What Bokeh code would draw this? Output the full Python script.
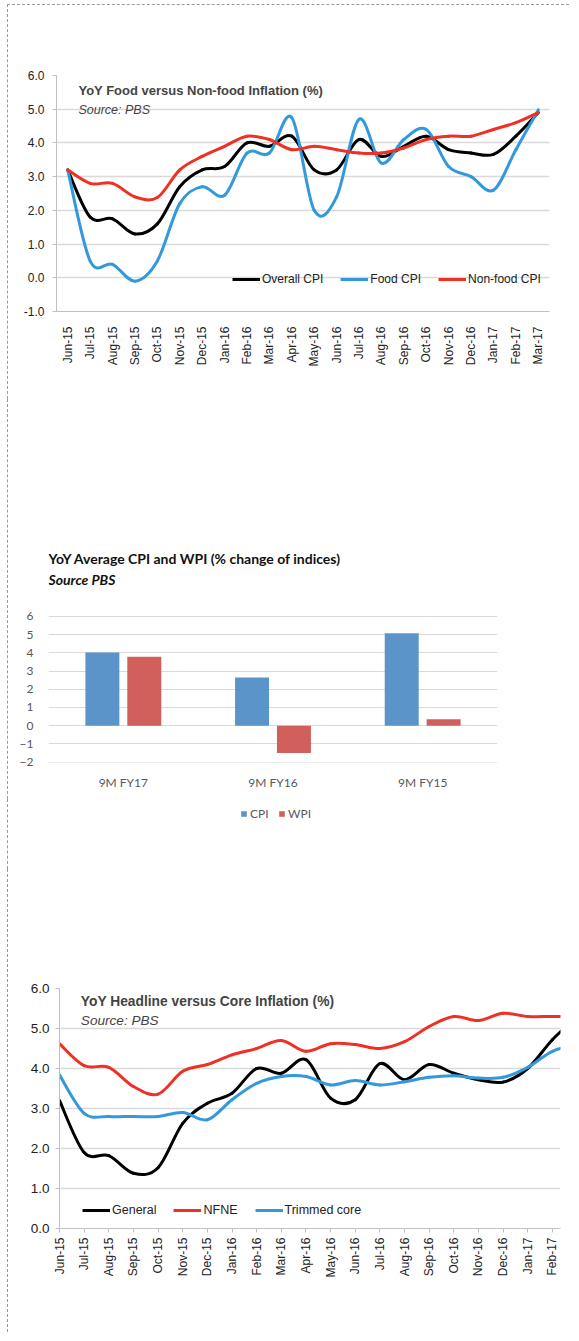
import math
from bokeh.plotting import figure
from bokeh.models import (ColumnDataSource, Label, Legend, LegendItem, FixedTicker,
                          NumeralTickFormatter, FactorRange, Range1d)
from bokeh.transform import dodge
from bokeh.embed import file_html
from bokeh.resources import INLINE

# ---------------- data ----------------
months = ["Jun-15", "Jul-15", "Aug-15", "Sep-15", "Oct-15", "Nov-15", "Dec-15",
          "Jan-16", "Feb-16", "Mar-16", "Apr-16", "May-16", "Jun-16", "Jul-16",
          "Aug-16", "Sep-16", "Oct-16", "Nov-16", "Dec-16", "Jan-17", "Feb-17", "Mar-17"]

overall_cpi = [3.2, 1.8, 1.75, 1.3, 1.6, 2.7, 3.2, 3.3, 4.0, 3.9, 4.2, 3.2, 3.2, 4.1,
               3.6, 3.9, 4.2, 3.8, 3.7, 3.66, 4.2, 4.9]
food_cpi = [3.2, 0.5, 0.4, -0.1, 0.5, 2.2, 2.7, 2.45, 3.7, 3.7, 4.75, 2.0, 2.4, 4.7,
            3.4, 4.1, 4.4, 3.3, 3.0, 2.6, 3.8, 4.98]
nonfood_cpi = [3.2, 2.8, 2.8, 2.4, 2.38, 3.2, 3.6, 3.9, 4.2, 4.1, 3.8, 3.9, 3.8, 3.7,
               3.7, 3.85, 4.1, 4.2, 4.2, 4.4, 4.6, 4.9]

bar_periods = ["9M FY17", "9M FY16", "9M FY15"]
cpi_avg = [4.02, 2.65, 5.08]
wpi_avg = [3.78, -1.5, 0.35]

general = [3.2, 1.9, 1.82, 1.38, 1.52, 2.63, 3.13, 3.38, 4.0, 3.88, 4.22, 3.26, 3.22,
           4.12, 3.72, 4.1, 3.88, 3.72, 3.66, 4.0, 4.72, 5.3]
nfne = [4.62, 4.07, 4.03, 3.55, 3.36, 3.93, 4.1, 4.34, 4.5, 4.7, 4.43, 4.62, 4.6, 4.5,
        4.67, 5.05, 5.3, 5.2, 5.38, 5.3, 5.3, 5.3]
trimmed = [3.84, 2.88, 2.8, 2.8, 2.8, 2.9, 2.72, 3.22, 3.63, 3.8, 3.8, 3.59, 3.7, 3.59,
           3.67, 3.78, 3.82, 3.76, 3.78, 4.03, 4.43, 4.6]

ARIAL = "Liberation Sans"
CAL = "Lato"
GRID = "#d9d9d9"
AXIS = "#bfbfbf"
DASH = "1px dashed #9a9a9a"
CPI_COLOR = "#5b94c9"
WPI_COLOR = "#d1605c"


def smooth_source(ys):
    """Bezier segments through the data points (Excel-like smoothed line)."""
    xs = list(range(len(ys)))
    n = len(xs)
    d = dict(x0=[], y0=[], x1=[], y1=[], cx0=[], cy0=[], cx1=[], cy1=[])
    for i in range(n - 1):
        xp, yp = (xs[i - 1], ys[i - 1]) if i > 0 else (xs[i], ys[i])
        xn, yn = (xs[i + 2], ys[i + 2]) if i + 2 < n else (xs[i + 1], ys[i + 1])
        d["x0"].append(xs[i]); d["y0"].append(ys[i])
        d["x1"].append(xs[i + 1]); d["y1"].append(ys[i + 1])
        d["cx0"].append(xs[i] + (xs[i + 1] - xp) / 6.0)
        d["cy0"].append(ys[i] + (ys[i + 1] - yp) / 6.0)
        d["cx1"].append(xs[i + 1] - (xn - xs[i]) / 6.0)
        d["cy1"].append(ys[i + 1] - (yn - ys[i]) / 6.0)
    return ColumnDataSource(d)


def smooth_line(p, ys, color):
    p.bezier(x0="x0", y0="y0", x1="x1", y1="y1", cx0="cx0", cy0="cy0", cx1="cx1", cy1="cy1",
             source=smooth_source(ys), line_color=color, line_width=3, line_cap="round")
    # legend swatch renderer (draws nothing in the plot)
    return p.line(x=[math.nan], y=[math.nan], line_color=color, line_width=3)


def base_line_fig(height, xr, yr, left, right, top, bottom, styles):
    p = figure(width=562, height=height, x_range=xr, y_range=yr,
               output_backend="svg", toolbar_location=None,
               min_border_left=left, min_border_right=right,
               min_border_top=top, min_border_bottom=bottom, styles=styles)
    p.outline_line_color = None
    p.xgrid.grid_line_color = None
    p.ygrid.grid_line_color = GRID
    p.ygrid.grid_line_width = 1.3
    p.yaxis.formatter = NumeralTickFormatter(format="0.0")
    p.yaxis.axis_line_color = AXIS
    p.yaxis.major_tick_line_color = AXIS
    p.yaxis.major_tick_in = 0
    p.yaxis.major_tick_out = 4
    p.yaxis.minor_tick_line_color = None
    p.xaxis.axis_line_color = AXIS
    p.xaxis.minor_tick_line_color = None
    p.xaxis.major_label_orientation = math.pi / 2
    for ax in (p.xaxis, p.yaxis):
        ax.major_label_text_font = ARIAL
        ax.major_label_text_color = "#222222"
    return p


def line_legend(items, loc, size):
    return Legend(items=items, orientation="horizontal", location=loc,
                  glyph_width=28, glyph_height=14, label_height=14, label_standoff=2,
                  spacing=17, padding=0, margin=0, border_line_color=None,
                  background_fill_alpha=0, label_text_font=ARIAL, label_text_font_size=size,
                  label_text_color="#222222")


SIDE = {"border-left": DASH, "margin-left": "7px"}

# ---------------- chart 1 ----------------
p1 = base_line_fig(395, Range1d(-0.5, 21.5), Range1d(-1, 6), 48, 21, 70, 89,
                   dict(SIDE, **{"border-top": DASH, "margin-top": "4px"}))
p1.yaxis.ticker = FixedTicker(ticks=list(range(-1, 7)))
p1.yaxis.major_label_text_font_size = "12px"
p1.yaxis.major_label_standoff = 8
p1.xaxis.ticker = FixedTicker(ticks=list(range(len(months))))
p1.xaxis.major_label_overrides = {i: m for i, m in enumerate(months)}
p1.xaxis.major_tick_line_color = None
p1.xaxis.major_label_text_font_size = "12px"
p1.xaxis.major_label_standoff = 9

r_over = smooth_line(p1, overall_cpi, "#000000")
r_food = smooth_line(p1, food_cpi, "#3399dd")
r_nonf = smooth_line(p1, nonfood_cpi, "#ee3124")

p1.add_layout(Label(x=0.48, y=5.555, text="YoY Food versus Non-food Inflation (%)",
                    text_font=ARIAL, text_font_style="bold", text_font_size="13px",
                    text_baseline="middle", text_align="left"))
p1.add_layout(Label(x=0.48, y=4.99, text="Source: PBS",
                    text_font=ARIAL, text_font_style="italic", text_font_size="12.5px",
                    text_baseline="middle", text_align="left"))
p1.add_layout(line_legend([LegendItem(label="Overall CPI", renderers=[r_over]),
                           LegendItem(label="Food CPI", renderers=[r_food]),
                           LegendItem(label="Non-food CPI", renderers=[r_nonf])],
                          (176, 25), "12px"))

# ---------------- chart 2 ----------------
src2 = ColumnDataSource(dict(period=bar_periods, cpi=cpi_avg, wpi=wpi_avg))
p2 = figure(width=562, height=400, x_range=FactorRange(factors=bar_periods),
            y_range=Range1d(-2.02, 9.95), output_backend="svg", toolbar_location=None,
            min_border_left=40, min_border_right=73, min_border_top=145, min_border_bottom=37,
            styles=SIDE)
p2.outline_line_color = None
p2.xgrid.grid_line_color = None
p2.ygrid.grid_line_color = GRID
p2.yaxis.ticker = FixedTicker(ticks=list(range(-2, 7)))
p2.yaxis.axis_line_color = None
p2.yaxis.major_tick_line_color = None
p2.yaxis.minor_tick_line_color = None
p2.yaxis.major_label_standoff = 9
p2.xaxis.axis_line_color = None
p2.xaxis.major_tick_line_color = None
p2.xaxis.major_label_standoff = 6
for ax in (p2.xaxis, p2.yaxis):
    ax.major_label_text_font = CAL
    ax.major_label_text_font_size = "12px"
    ax.major_label_text_color = "#595959"

p2.vbar(x=dodge("period", -0.14, range=p2.x_range), top="cpi", bottom=0,
        width=0.227, source=src2, fill_color=CPI_COLOR, line_color=None)
p2.vbar(x=dodge("period", 0.14, range=p2.x_range), top="wpi", bottom=0,
        width=0.227, source=src2, fill_color=WPI_COLOR, line_color=None)

p2.add_layout(Label(x=0, y=9.18, text="YoY Average CPI and WPI (% change of indices)",
                    text_font=CAL, text_font_style="bold", text_font_size="14px",
                    text_baseline="middle", text_align="left", text_color="#111111"))
p2.add_layout(Label(x=0, y=8.03, text="Source PBS",
                    text_font=CAL, text_font_style="bold italic", text_font_size="14px",
                    text_baseline="middle", text_align="left", text_color="#111111"))

# legend strip for chart 2 (separate small canvas right under the bars)
pl = figure(width=562, height=70, x_range=Range1d(0, 1), y_range=Range1d(0, 1),
            x_axis_type=None, y_axis_type=None, output_backend="svg", toolbar_location=None,
            min_border=0, styles=SIDE)
pl.outline_line_color = None
pl.grid.grid_line_color = None
sw_cpi = pl.vbar(x=[math.nan], top=[math.nan], width=0.1, fill_color=CPI_COLOR, line_color=None)
sw_wpi = pl.vbar(x=[math.nan], top=[math.nan], width=0.1, fill_color=WPI_COLOR, line_color=None)
pl.add_layout(Legend(items=[LegendItem(label="CPI", renderers=[sw_cpi]),
                            LegendItem(label="WPI", renderers=[sw_wpi])],
                     orientation="horizontal", location=(232, 48),
                     glyph_width=7, glyph_height=7, label_height=7, label_standoff=3,
                     spacing=8, padding=0, margin=0, border_line_color=None,
                     background_fill_alpha=0, label_text_font=CAL, label_text_font_size="12px",
                     label_text_color="#595959"))

# ---------------- chart 3 ----------------
p3 = base_line_fig(463, Range1d(0, 20.33), Range1d(0, 6), 51, 10, 119, 104, SIDE)
p3.yaxis.ticker = FixedTicker(ticks=list(range(0, 7)))
p3.yaxis.major_label_text_font_size = "13.5px"
p3.yaxis.major_label_standoff = 6
p3.xaxis.ticker = FixedTicker(ticks=list(range(len(months))))
p3.xaxis.major_label_overrides = {i: m for i, m in enumerate(months)}
p3.xaxis.major_tick_line_color = AXIS
p3.xaxis.major_tick_in = 0
p3.xaxis.major_tick_out = 4
p3.xaxis.major_label_text_font_size = "12px"
p3.xaxis.major_label_standoff = 5

r_gen = smooth_line(p3, general, "#000000")
r_nfne = smooth_line(p3, nfne, "#ee3124")
r_trim = smooth_line(p3, trimmed, "#3399dd")

p3.add_layout(Label(x=0.865, y=5.67, text="YoY Headline versus Core Inflation (%)",
                    text_font=ARIAL, text_font_style="bold", text_font_size="13.8px",
                    text_baseline="middle", text_align="left"))
p3.add_layout(Label(x=0.865, y=5.19, text="Source: PBS",
                    text_font=ARIAL, text_font_style="italic", text_font_size="13.6px",
                    text_baseline="middle", text_align="left"))
p3.add_layout(line_legend([LegendItem(label="General", renderers=[r_gen]),
                           LegendItem(label="NFNE", renderers=[r_nfne]),
                           LegendItem(label="Trimmed core", renderers=[r_trim])],
                          (23, 11), "12.5px"))

open("out.html", "w").write(file_html([p1, p2, pl, p3], INLINE))
